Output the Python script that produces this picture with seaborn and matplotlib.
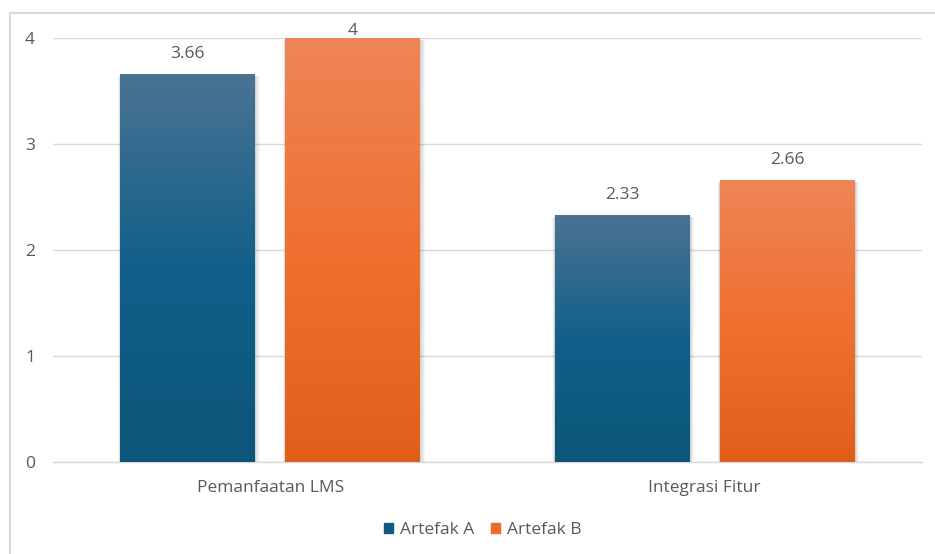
import numpy as np
import pandas as pd
import matplotlib
matplotlib.use("Agg")
import matplotlib.pyplot as plt
from matplotlib.colors import LinearSegmentedColormap
from matplotlib.patches import Rectangle
import seaborn as sns

categories = ["Pemanfaatan LMS", "Integrasi Fitur"]
series_names = ["Artefak A", "Artefak B"]
artefak_a = [3.66, 2.33]
artefak_b = [4, 2.66]
y_ticks = [0, 1, 2, 3, 4]

df = pd.DataFrame({
    "kategori": categories * 2,
    "nilai": artefak_a + artefak_b,
    "seri": [series_names[0]] * 2 + [series_names[1]] * 2,
})

sns.set_theme(style="white")
plt.rcParams["font.family"] = ["Open Sans", "DejaVu Sans"]

text_gray = "#595959"
grid_gray = "#D9D9D9"
solid = {"Artefak A": "#125B7E", "Artefak B": "#EC6A2C"}
gradients = {
    "Artefak A": ["#4A7392", "#11608A", "#0B5679"],
    "Artefak B": ["#EE8556", "#F07030", "#DF5F1A"],
}
fs = 12.5

W, H = 935, 554
fig = plt.figure(figsize=(W / 100, H / 100), dpi=100)
ax = fig.add_axes([53 / W, 1 - 462 / H, 869 / W, 424 / H])

sns.barplot(data=df, x="kategori", y="nilai", hue="seri", order=categories,
            hue_order=series_names, palette=solid, width=0.76, gap=0.184,
            legend=False, ax=ax, zorder=3, linewidth=0)

y_max = y_ticks[-1]
ax.set_ylim(0, y_max)
ax.set_xlim(-0.5, 1.5)
ax.set_yticks(y_ticks)
ax.set_yticklabels([str(t) for t in y_ticks])
ax.yaxis.grid(True, color=grid_gray, linewidth=1.0, zorder=0)
ax.set_axisbelow(True)
for side in ["top", "right", "left"]:
    ax.spines[side].set_visible(False)
ax.spines["bottom"].set_color(grid_gray)
ax.spines["bottom"].set_linewidth(1.0)
ax.tick_params(axis="y", length=0, pad=13, labelsize=fs, labelcolor=text_gray)
ax.tick_params(axis="x", length=0, pad=13, labelsize=fs, labelcolor=text_gray)
ax.set_xlabel("")
ax.set_ylabel("")

# pixel -> data scale for the soft bar shadow
px_x = 2.0 / 869
px_y = 4.0 / 424

# Vertical gradient fill for each bar, with its value label on top
values_by_patch = artefak_a + artefak_b
series_by_patch = [series_names[0]] * 2 + [series_names[1]] * 2
for patch, val, name in zip(ax.patches, values_by_patch, series_by_patch):
    x0, w = patch.get_x(), patch.get_width()
    patch.set_linewidth(0)
    for d, a in [(4, 0.03), (3, 0.04), (2, 0.05), (1, 0.07)]:
        ax.add_patch(Rectangle((x0 - d * px_x * 0.6, 0), w + d * px_x * 1.8,
                               val - 2 * px_y, facecolor="black",
                               alpha=a, linewidth=0, zorder=2.5))
    cmap = LinearSegmentedColormap.from_list(name, gradients[name][::-1])
    grad = np.linspace(0, 1, 256).reshape(-1, 1)
    ax.imshow(grad, cmap=cmap, aspect="auto", origin="lower",
              extent=[x0, x0 + w, 0, val], zorder=4, interpolation="bilinear")
    # a label on a bar that reaches the axis top is kept tight to the bar
    off = -1 if val >= y_max else 8.5
    ax.annotate(f"{val:g}", (x0 + w / 2, val), xytext=(0, off),
                textcoords="offset points", ha="center", va="bottom",
                fontsize=fs, color=text_gray, annotation_clip=False)

ax.set_xlim(-0.5, 1.5)
ax.set_ylim(0, y_max)

handles = [Rectangle((0, 0), 1, 1, color=solid[n]) for n in series_names]
fig.legend(handles, series_names, loc="center", bbox_to_anchor=(483 / W, 1 - 530 / H),
           ncol=2, frameon=False, fontsize=fs, labelcolor=text_gray,
           handlelength=0.5, handleheight=0.5, handletextpad=0.4, columnspacing=1.0)

# Chart area border
fig.patches.append(Rectangle((10 / W, -0.1), 1.2, 1 - 13 / H + 0.1,
                             transform=fig.transFigure, fill=False,
                             edgecolor=grid_gray, linewidth=1.5, zorder=0))

fig.savefig("out.png", dpi=100)
